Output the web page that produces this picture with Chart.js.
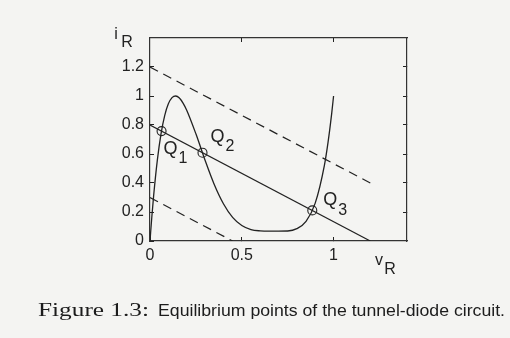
<!DOCTYPE html>
<html>
<head>
<meta charset="utf-8">
<script src="https://cdn.jsdelivr.net/npm/chart.js@4.4.1/dist/chart.umd.min.js"></script>
<style>
  html, body { margin: 0; padding: 0; background: #f4f4f2; }
  #wrap { width: 510px; height: 338px; position: relative; }
</style>
</head>
<body>
<div id="wrap"><canvas id="chart"></canvas></div>
<script>
// tunnel-diode characteristic i_R = h(v_R)
const diodeV = [0, 0.01, 0.02, 0.04, 0.06, 0.08, 0.1, 0.12, 0.14, 0.16, 0.18, 0.2, 0.25, 0.3, 0.35, 0.4,
                0.45, 0.5, 0.55, 0.6, 0.65, 0.7, 0.75, 0.8, 0.85, 0.9, 0.95, 0.97, 0.99, 1.0];
const diodeI = [0, 0.167, 0.315, 0.558, 0.739, 0.865, 0.946, 0.989, 1.0, 0.986, 0.951, 0.902, 0.739, 0.557, 0.390, 0.257,
                0.163, 0.107, 0.079, 0.070, 0.068, 0.068, 0.069, 0.085, 0.135, 0.261, 0.522, 0.682, 0.882, 1.0];

// load line and two shifted copies (dashed)
const loadV = [0, 1.2];
const loadI = [0.8, 0];
const loadHighV = [0, 1.2];
const loadHighI = [1.2, 0.4];
const loadLowV = [0, 0.45];
const loadLowI = [0.3, 0];

// equilibrium points Q1..Q3
const eqV = [0.063, 0.286, 0.884];
const eqI = [0.758, 0.609, 0.211];
const eqNames = ['1', '2', '3'];

const xTicks = [0, 0.5, 1];
const yTicks = [0, 0.2, 0.4, 0.6, 0.8, 1, 1.2];
const xTicksTop = [0.5, 1];
const yTicksRight = [0.2, 0.4, 0.6, 0.8, 1, 1.2];

const captionHead = 'Figure 1.3:';
const captionBody = 'Equilibrium points of the tunnel-diode circuit.';

const ink = '#222';
const sans = '"Liberation Sans", Arial, sans-serif';
const serif = '"Liberation Serif", "DejaVu Serif", serif';
// pixel offset of each Q label from its point
const eqOffset = [[2, 18], [8, -16], [11, -10]];

const toPts = (xs, ys) => xs.map((x, i) => ({ x: x, y: ys[i] }));
const setTicks = list => scale => { scale.ticks = list.map(value => ({ value })); };

const grid = { drawOnChartArea: false, drawTicks: true, tickLength: -4, color: ink, lineWidth: 1 };
const border = { display: true, color: '#333', width: 1.2 };
const tickFont = { family: sans, size: 16 };

// text squeezed or stretched to a given width
function fitText(ctx, text, font, x, y, width) {
  ctx.font = font;
  const k = width / ctx.measureText(text).width;
  ctx.save();
  ctx.translate(x, y);
  ctx.scale(k, 1);
  ctx.fillText(text, 0, 0);
  ctx.restore();
}

const annotations = {
  id: 'annotations',
  afterDraw(chart) {
    const { ctx, chartArea: a, scales: { x, y } } = chart;
    ctx.save();
    ctx.fillStyle = ink;
    ctx.textBaseline = 'middle';
    ctx.textAlign = 'left';

    // Q labels with subscripts
    eqV.forEach((v, k) => {
      const px = x.getPixelForValue(v) + eqOffset[k][0];
      const py = y.getPixelForValue(eqI[k]) + eqOffset[k][1];
      ctx.font = '18px ' + sans;
      ctx.fillText('Q', px, py);
      const w = ctx.measureText('Q').width;
      ctx.font = '16px ' + sans;
      ctx.fillText(eqNames[k], px + w + 1, py + 10);
    });

    // axis names i_R and v_R
    ctx.textAlign = 'center';
    ctx.font = '16px ' + sans;
    ctx.fillText('i', a.left - 34, a.top - 3);
    ctx.fillText('R', a.left - 23, a.top + 5);
    ctx.fillText('v', a.right - 28, a.bottom + 20);
    ctx.fillText('R', a.right - 17, a.bottom + 29);

    // caption: serif head, sans body
    ctx.textAlign = 'left';
    ctx.textBaseline = 'alphabetic';
    ctx.fillStyle = '#1c1c1c';
    fitText(ctx, captionHead, '18px ' + serif, 38, 316, 111);
    fitText(ctx, captionBody, '16.5px ' + sans, 158, 316, 347);
    ctx.restore();
  }
};

new Chart(document.getElementById('chart'), {
  type: 'scatter',
  data: {
    datasets: [
      { data: toPts(diodeV, diodeI), showLine: true, borderColor: ink, borderWidth: 1.3,
        pointRadius: 0, cubicInterpolationMode: 'monotone' },
      { data: toPts(loadV, loadI), showLine: true, borderColor: ink, borderWidth: 1.2, pointRadius: 0 },
      { data: toPts(loadHighV, loadHighI), showLine: true, borderColor: ink, borderWidth: 1.2,
        borderDash: [9, 6], pointRadius: 0 },
      { data: toPts(loadLowV, loadLowI), showLine: true, borderColor: ink, borderWidth: 1.2,
        borderDash: [9, 6], pointRadius: 0 },
      { data: toPts(eqV, eqI), showLine: false, pointRadius: 4.5, pointBorderColor: ink,
        pointBackgroundColor: 'rgba(0,0,0,0)', pointBorderWidth: 1.1 }
    ]
  },
  options: {
    responsive: true,
    maintainAspectRatio: false,
    animation: false,
    layout: { padding: { left: 110, right: 103, top: 38, bottom: 67 } },
    plugins: { legend: { display: false }, tooltip: { enabled: false } },
    scales: {
      x: {
        type: 'linear', position: 'bottom', min: 0, max: 1.4,
        afterFit: s => { s.height = 30; },
        afterBuildTicks: setTicks(xTicks),
        ticks: { color: ink, font: tickFont, padding: 9, maxRotation: 0, callback: v => String(v) },
        grid: grid, border: border
      },
      x2: {
        type: 'linear', position: 'top', min: 0, max: 1.4,
        afterFit: s => { s.height = 0; },
        afterBuildTicks: setTicks(xTicksTop),
        ticks: { display: false },
        grid: grid, border: border
      },
      y: {
        type: 'linear', position: 'left', min: 0, max: 1.4,
        afterFit: s => { s.width = 40; },
        afterBuildTicks: setTicks(yTicks),
        ticks: { color: ink, font: tickFont, padding: 10, callback: v => String(v) },
        grid: grid, border: border
      },
      y2: {
        type: 'linear', position: 'right', min: 0, max: 1.4,
        afterFit: s => { s.width = 0; },
        afterBuildTicks: setTicks(yTicksRight),
        ticks: { display: false },
        grid: grid, border: border
      }
    }
  },
  plugins: [annotations]
});
</script>
</body>
</html>
